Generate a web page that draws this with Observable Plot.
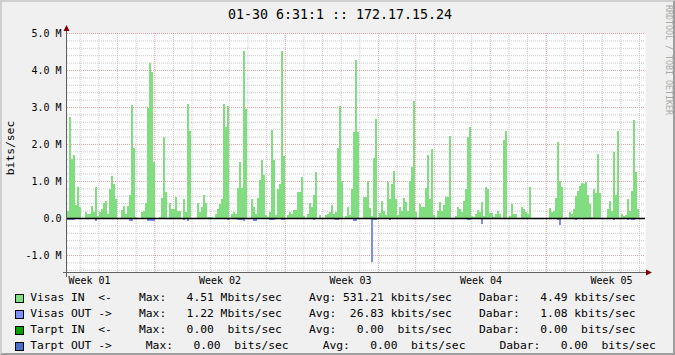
<!DOCTYPE html>
<html>
<head>
<meta charset="utf-8">
<script src="https://cdn.jsdelivr.net/npm/d3@7"></script>
<script src="https://cdn.jsdelivr.net/npm/@observablehq/plot@0.6"></script>
<style>
  html, body { margin: 0; padding: 0; background: #F0F0F0; }
  #wrap { position: relative; width: 675px; height: 355px; background: #F0F0F0; overflow: hidden; font-family: "DejaVu Sans Mono", monospace; color: #000; }
  #chart { position: absolute; left: 0; top: 0; }
  .abs { position: absolute; white-space: pre; line-height: 1; }
  #shade { position: absolute; left: 0; top: 0; width: 675px; height: 355px; box-sizing: border-box; pointer-events: none;
           border-left: 2px solid #CFCFCF; border-top: 2px solid #CFCFCF; border-right: 2px solid #9E9E9E; border-bottom: 2px solid #9E9E9E; }
  .sw { position: absolute; width: 9px; height: 9px; box-sizing: border-box; border: 1px solid #000; }
</style>
</head>
<body>
<div id="wrap">
  <div id="chart"></div>
  <div id="title" class="abs" style="left:0; width:680px; text-align:center; top:7.7px; font-size:13.3px;"></div>
  <div id="ylab" class="abs" style="font-size:11.3px; left:10.5px; top:148px; transform: translate(-50%,-50%) rotate(-90deg);"></div>
  <div id="credit" class="abs" style="font-size:8.3px; color:#A8A8A8; left:669px; top:60px; transform: translate(-50%,-50%) rotate(90deg);"></div>
  <div id="legend"></div>
  <div id="shade"></div>
</div>
<script>
// ---- chart data (Mbit/s), one value per ~2.57 h over 31 days ----
const titleText = "01-30 6:31:1 :: 172.17.15.24";
const yAxisLabel = "bits/sec";
const creditText = "RRDTOOL / TOBI OETIKER";
const spanDays = 31;

const visasIn = [
  0.2,2.73,1.6,1.7,0.36,0.85,0.3,0,0,0.15, 0.1,0.12,0.33,0.15,0.85,0.05,0.17,0.25,0.41,0.47,
  0.12,0.79,1.14,0.93,0.5,0,0,0.22,0.33,0.12, 0.33,0.63,3.06,1.9,0.03,0,0,0.15,0.2,0.4,
  2.98,4.2,3.95,1.52,0,0,0.03,0.54,2.18,0.7, 0,0.4,0.25,0.25,0.58,0.2,0.2,0,0.52,0.15,
  3.09,2.36,0,0,0,0.41,0.15,0.3,0.63,0.4, 0.04,0.04,0.02,0,0.12,0.25,0.39,0.52,3.09,2.47,
  3.04,0,0.1,0.17,0.1,0.82,1.5,0.82,4.51,2.95, 0,0,0.52,0.3,0.1,0.55,1.04,1.58,1.17,0.07,
  0.03,0.17,2.39,1.58,0.07,0.77,0.93,4.51,1.68,0, 0.07,0.17,0.12,0.22,0.22,0.71,0.71,1.12,0.05,0,
  0.1,0.41,0.3,0.63,1.25,0,0.09,0,0,0.09, 0.12,0.17,0.36,0.1,0.17,1.9,3.04,1.0,0,0.05,
  0.3,0.09,0.79,2.33,4.28,2.33,0,0,0.58,0.58, 1.0,0.28,0.05,1.62,2.68,0,0.14,0.47,0.2,0.07,
  0.98,0.52,0.93,1.28,0.52,0.09,0.3,0.2,0.55,0.44, 0.2,1.0,1.39,3.17,0.15,0,0.39,0.3,0.3,0.82,
  1.71,0.52,1.87,0.09,0,0.2,0.44,0.2,0.36,0.58, 0.58,2.22,0,0,0.06,0.3,0.25,0.15,0.47,0.79,
  2.2,2.47,0.05,0.03,0.1,0.22,0.15,0.44,0.05,0.85, 0.79,0.14,0.14,0.04,0.12,0.2,0.12,0,2.12,2.36,
  0,0.05,0.39,0.1,0.1,0,0,0.3,0.25,0.17, 0.12,0.85,0,0,0,0,0,0,0,0,
  0,0.28,0.15,0.2,0.55,2.06,1.0,0.85,0,0.03, 0,0.17,0.12,0.25,0.6,0.74,0.87,0.95,0.93,0.98,
  0.63,0.39,0.03,0.79,0.68,1.74,0.68,0,0,0, 0.25,0.47,0.2,1.79,0.63,2.36,0,0.12,0.05,0.09,
  0.52,0.2,0.74,2.66,1.25,0.25,0,0,0
];

// outgoing traffic, drawn below zero
const visasOut = [
  0.06,0.06,0.06,0.06,0,0,0,0,0,0, 0.04,0.04,0.04,0,0.09,0,0,0,0.04,0.04,
  0,0,0,0,0,0,0,0.04,0.04,0.04, 0,0.07,0.07,0,0,0,0,0.04,0,0,
  0.08,0.08,0.08,0.08,0,0,0,0,0.04,0, 0,0.04,0,0,0,0,0.04,0,0.05,0,
  0.09,0,0,0,0,0.04,0,0.04,0,0, 0,0,0,0,0,0.04,0.04,0.04,0,0,
  0.06,0,0,0,0,0.06,0.06,0.06,0.09,0, 0,0,0.04,0.09,0.09,0.04,0,0,0,0,
  0,0.06,0.06,0.06,0,0,0,0.06,0.06,0, 0,0,0,0.04,0,0,0.04,0,0,0,
  0.04,0,0,0.05,0,0,0,0,0,0, 0,0,0,0,0.06,0.06,0,0,0,0,
  0,0,0,0.09,0.09,0,0,0,0.04,0.04, 0,0,1.2,0.06,0.06,0,0,0,0,0,
  0,0.06,0,0,0,0,0,0,0.04,0, 0,0,0,0.04,0,0,0,0.04,0,0,
  0,0,0.04,0,0,0.04,0,0,0,0.04, 0.04,0.04,0,0,0,0.04,0,0.04,0,0,
  0.06,0.06,0,0,0,0,0,0.15,0,0, 0,0,0,0,0,0.04,0,0,0.04,0.04,
  0,0,0.04,0,0,0,0,0,0,0.04, 0,0,0,0,0,0,0,0,0,0,
  0,0,0,0,0,0.05,0.18,0,0,0, 0,0,0,0,0.06,0,0,0,0,0,
  0.04,0,0,0.04,0.04,0.04,0,0,0,0, 0,0.04,0,0.05,0,0.04,0,0,0,0,
  0.06,0,0.06,0.06,0,0,0,0,0
];

// time grid (days from left edge)
const firstMidnight = 0.68;
const weekStarts = [4.68, 11.68, 18.68, 25.68];
const weekLabelDays = [1.18, 8.18, 15.18, 22.18, 29.18];
const weekLabels = ["Week 01", "Week 02", "Week 03", "Week 04", "Week 05"];

// value grid (Mbit/s)
const yDomain = [-1.46, 5];
const yMajorTicks = [-1, 0, 1, 2, 3, 4, 5];
const yMinorStep = 0.2;

// legend
const legendColors = ["#80E080", "#7F8FFF", "#00A000", "#4A6FCC"];
const legendRows = [
  "Visas IN  <-    Max:   4.51 Mbits/sec    Avg: 531.21 kbits/sec    Dabar:   4.49 kbits/sec",
  "Visas OUT ->    Max:   1.22 Mbits/sec    Avg:  26.83 kbits/sec    Dabar:   1.08 kbits/sec",
  "Tarpt IN  <-    Max:   0.00  bits/sec    Avg:   0.00  bits/sec    Dabar:   0.00  bits/sec",
  "Tarpt OUT ->     Max:   0.00  bits/sec     Avg:   0.00  bits/sec     Dabar:   0.00  bits/sec"
];

// ---- derived tables ----
const stepDays = spanDays / visasIn.length;
const inBars = visasIn.map((v, i) => ({t0: i * stepDays, t1: (i + 1) * stepDays, v})).filter(d => d.v > 0);
const outBars = visasOut.map((v, i) => ({t0: i * stepDays, t1: (i + 1) * stepDays, v: -v})).filter(d => d.v < 0);
const dayLines = d3.range(firstMidnight, spanDays, 1).filter(d => !weekStarts.some(w => Math.abs(w - d) < 1e-6));
const yMinorTicks = d3.range(Math.ceil(yDomain[0] / yMinorStep), Math.floor(yDomain[1] / yMinorStep) + 1)
  .map(i => +(i * yMinorStep).toFixed(2)).filter(d => !yMajorTicks.includes(d));

const minorColor = "#C8C8C8";
const majorColor = "#E6A0A0";

function axesMark(index, scales, values, dims) {
  const g = d3.create("svg:g");
  const x0 = dims.marginLeft, x1 = dims.width - dims.marginRight;
  const yT = dims.marginTop, yB = dims.height - dims.marginBottom;
  g.append("line").attr("x1", x0 - 0.5).attr("x2", x0 - 0.5).attr("y1", yT - 3).attr("y2", yB + 5)
    .attr("stroke", "#606060").attr("stroke-width", 1);
  g.append("line").attr("x1", x0 - 4).attr("x2", x1 + 2).attr("y1", yB + 0.5).attr("y2", yB + 0.5)
    .attr("stroke", "#606060").attr("stroke-width", 1);
  g.append("path").attr("d", `M${x0 - 3.5},${yT - 2}L${x0 + 2.5},${yT - 2}L${x0 - 0.5},${yT - 8}Z`).attr("fill", "#7F0000");
  g.append("path").attr("d", `M${x1 + 1},${yB - 2.5}L${x1 + 1},${yB + 3.5}L${x1 + 7},${yB + 0.5}Z`).attr("fill", "#7F0000");
  return g.node();
}

const chart = Plot.plot({
  width: 675,
  height: 300,
  marginLeft: 67,
  marginRight: 30,
  marginTop: 33,
  marginBottom: 28,
  style: {background: "transparent", fontFamily: "DejaVu Sans Mono, monospace", color: "#000", overflow: "visible"},
  x: {domain: [0, spanDays]},
  y: {domain: yDomain},
  marks: [
    Plot.frame({fill: "white", stroke: null}),
    Plot.ruleY(yMinorTicks, {stroke: minorColor, strokeDasharray: "1,1"}),
    Plot.ruleX(dayLines, {stroke: minorColor, strokeDasharray: "1,1"}),
    Plot.ruleY(yMajorTicks, {stroke: majorColor, strokeDasharray: "1,1"}),
    Plot.ruleX(weekStarts, {stroke: majorColor, strokeDasharray: "1,1"}),
    Plot.rect(inBars, {x1: "t0", x2: "t1", y1: 0, y2: "v", fill: "#80DE80", inset: 0, shapeRendering: "crispEdges"}),
    Plot.rect(outBars, {x1: "t0", x2: "t1", y1: 0, y2: "v", fill: "#7B8CF5", inset: 0, shapeRendering: "crispEdges"}),
    Plot.ruleY([0], {stroke: "#000", strokeWidth: 1.5}),
    Plot.axisY({ticks: yMajorTicks, tickFormat: d => d === 0 ? "0.0" : `${d.toFixed(1)} M`, tickSize: 0, tickPadding: 6, fontSize: 10, label: null}),
    Plot.axisX({ticks: weekLabelDays, tickFormat: (d, i) => weekLabels[i], tickSize: 0, tickPadding: 4, fontSize: 10, label: null}),
    axesMark
  ]
});
document.getElementById("chart").appendChild(chart);

document.getElementById("title").textContent = titleText;
document.getElementById("ylab").textContent = yAxisLabel;
document.getElementById("credit").textContent = creditText;

const legend = document.getElementById("legend");
legendRows.forEach((row, i) => {
  const capCenter = 298 + i * 16;
  const sw = document.createElement("div");
  sw.className = "sw";
  sw.style.left = "15px";
  sw.style.top = (capCenter - 4.5) + "px";
  sw.style.background = legendColors[i];
  legend.appendChild(sw);
  const t = document.createElement("div");
  t.className = "abs";
  t.style.left = "30.2px";
  t.style.fontSize = "11.3px";
  t.style.top = (capCenter + 4 - 9.56) + "px";
  t.textContent = row;
  legend.appendChild(t);
});
</script>
</body>
</html>
